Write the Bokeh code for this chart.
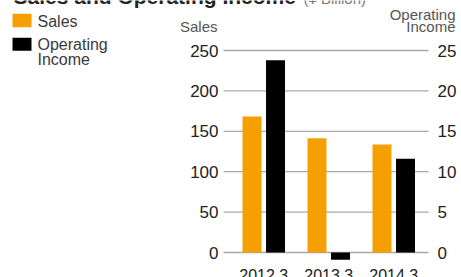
from bokeh.plotting import figure
from bokeh.models import Range1d, LinearAxis, FixedTicker, Label, ColumnDataSource
from bokeh.transform import dodge
from bokeh.embed import file_html
from bokeh.resources import INLINE

# ---- data ----
years = ["2012.3", "2013.3", "2014.3"]
sales = [168.3, 141.5, 133.7]          # ¥ billion, left axis
op_income = [23.8, -0.9, 11.6]         # ¥ billion, right axis
sales_ticks = [0, 50, 100, 150, 200, 250]
oi_ticks = [0, 5, 10, 15, 20, 25]
series_names = ["Sales", "Operating", "Income"]

FONT = "Liberation Sans"
ORANGE = "#F5A000"
W, H = 461, 277

# layout helpers: page pixel -> data coordinates (positions only)
PX_PER_CAT = 65.0
X0_PX = 263.25           # pixel centre of first category
Y0_PX = 252.0            # pixel of value 0
PX_PER_UNIT = 0.808      # pixels per sales unit

def dx(px):
    return (px - X0_PX) / PX_PER_CAT

def dy(py):
    return (Y0_PX - py) / PX_PER_UNIT

PLOT_L, PLOT_R, PLOT_B = dx(223), dx(428), dy(262)

src = ColumnDataSource(dict(x=list(range(len(years))), sales=sales, oi=op_income))

p = figure(width=W, height=H, output_backend="svg", toolbar_location=None,
           x_range=Range1d(dx(0), dx(W)), y_range=Range1d(dy(H), dy(0)),
           min_border=0, outline_line_color=None,
           background_fill_color="white", border_fill_color="white",
           x_axis_location=None, y_axis_location=None)
p.extra_y_ranges = {"oi": Range1d(dy(H) / 10, dy(0) / 10)}
p.grid.visible = False

# grid lines (only across the chart area)
p.segment(x0=PLOT_L, x1=PLOT_R, y0=sales_ticks, y1=sales_ticks,
          line_color="#a8a8a8", line_width=1.3)

r1 = p.vbar(x=dodge("x", -0.181, range=p.x_range), top="sales", width=0.292, source=src,
            fill_color=ORANGE, line_color=None)
r2 = p.vbar(x=dodge("x", 0.181, range=p.x_range), top="oi", bottom=0, width=0.292, source=src,
            fill_color="black", line_color=None, y_range_name="oi")

def style_axis(ax, size, standoff):
    ax.axis_line_color = None
    ax.major_tick_line_color = None
    ax.minor_tick_line_color = None
    ax.major_tick_out = 0
    ax.major_tick_in = 0
    ax.minor_tick_out = 0
    ax.minor_tick_in = 0
    ax.major_label_standoff = standoff
    ax.major_label_text_font = FONT
    ax.major_label_text_font_size = size
    ax.major_label_text_color = "#222222"

ly = LinearAxis(ticker=FixedTicker(ticks=sales_ticks), fixed_location=PLOT_L)
style_axis(ly, "17px", 5)
p.add_layout(ly, "left")

ry = LinearAxis(y_range_name="oi", ticker=FixedTicker(ticks=oi_ticks), fixed_location=PLOT_R)
style_axis(ry, "17px", 9)
p.add_layout(ry, "right")

xa = LinearAxis(ticker=FixedTicker(ticks=list(range(len(years)))), fixed_location=PLOT_B)
xa.major_label_overrides = {i: y for i, y in enumerate(years)}
style_axis(xa, "16px", 6)
p.add_layout(xa, "below")

def lab(text, px, py, size, color, align="left", style="normal"):
    # empirical correction: Bokeh draws the alphabetic baseline ~0.37em lower
    py_adj = py - 0.37 * size
    p.add_layout(Label(x=dx(px), y=dy(py_adj), text=text, text_font=FONT,
                       text_font_size=f"{size}px", text_color=color, text_align=align,
                       text_baseline="alphabetic", text_font_style=style))

# title (cropped at the top edge, as in the reference)
lab("Sales and Operating Income", 13, 4, 21, "#222222", style="bold")
lab("(¥ Billion)", 303, 4, 15, "#777777")
# axis headers
lab("Sales", 217, 32, 15, "#555555", align="right")
lab("Operating", 455, 19.7, 15, "#555555", align="right")
lab("Income", 455, 32, 15, "#555555", align="right")

# legend swatches and texts
p.rect(x=dx(21.5), y=dy(20), width=19, height=13.5, width_units="screen",
       height_units="screen", fill_color=ORANGE, line_color=None)
p.rect(x=dx(21.5), y=dy(43.7), width=19, height=13, width_units="screen",
       height_units="screen", fill_color="black", line_color=None)
lab(series_names[0], 37, 26.5, 16, "#3a3a3a")
lab(series_names[1], 37, 50, 16, "#3a3a3a")
lab(series_names[2], 37, 64.5, 16, "#3a3a3a")

open("out.html", "w").write(file_html(p, INLINE))
